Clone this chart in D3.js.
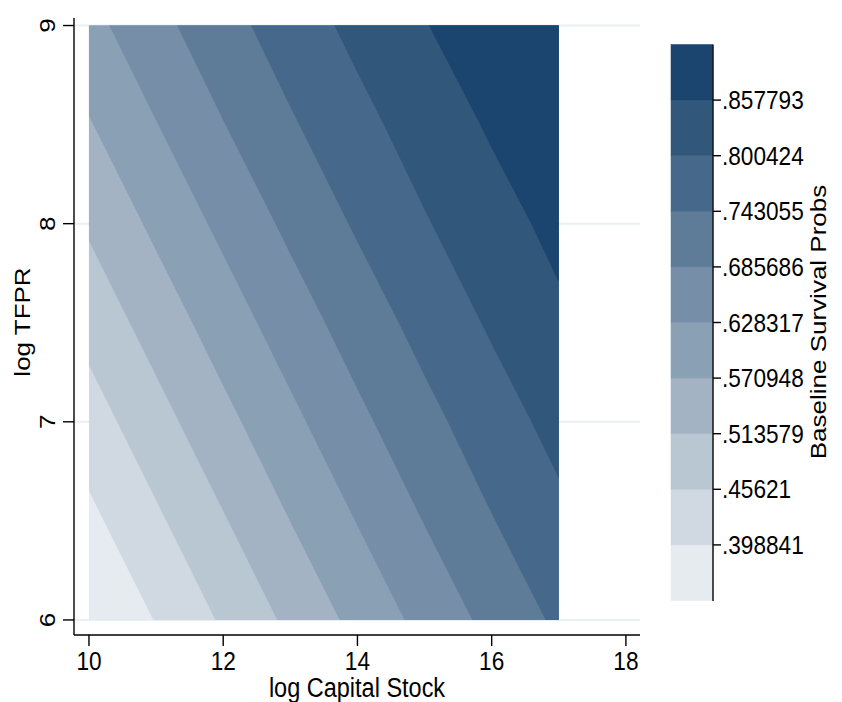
<!DOCTYPE html>
<html>
<head>
<meta charset="utf-8">
<script src="https://cdn.jsdelivr.net/npm/d3@7"></script>
<style>
  html, body { margin: 0; padding: 0; background: #ffffff; }
  svg { display: block; }
  text { font-family: "Liberation Sans", Arial, Helvetica, sans-serif; fill: #000; }
</style>
</head>
<body>
<svg id="chart" width="842" height="702"></svg>
<script>
// ---------------- DATA ----------------
// grid columns (log Capital Stock) and rows (log TFPR)
const xCols = [10, 11, 12, 13, 14, 15, 16, 17];
const yRows = [6, 6.5, 7, 7.5, 8, 8.5, 9];

// Baseline survival probabilities at the grid nodes (one array per row of log TFPR)
const zAtY6_0 = [0.3415, 0.4010, 0.4631, 0.5254, 0.5869, 0.6455, 0.7015, 0.7529];
const zAtY6_5 = [0.3850, 0.4465, 0.5088, 0.5711, 0.6302, 0.6874, 0.7403, 0.7867];
const zAtY7_0 = [0.4299, 0.4921, 0.5545, 0.6145, 0.6723, 0.7262, 0.7744, 0.8180];
const zAtY7_5 = [0.4755, 0.5378, 0.5987, 0.6569, 0.7120, 0.7621, 0.8073, 0.8477];
const zAtY8_0 = [0.5212, 0.5829, 0.6416, 0.6979, 0.7498, 0.7959, 0.8369, 0.8720];
const zAtY8_5 = [0.5669, 0.6262, 0.6837, 0.7367, 0.7836, 0.8261, 0.8641, 0.8936];
const zAtY9_0 = [0.6105, 0.6684, 0.7226, 0.7713, 0.8153, 0.8557, 0.8857, 0.9152];

// contour levels and legend labels
const zMin = 0.341472;
const zMax = 0.915162;
const levels = [0.398841, 0.45621, 0.513579, 0.570948, 0.628317, 0.685686, 0.743055, 0.800424, 0.857793];
const levelLabels = [".398841", ".45621", ".513579", ".570948", ".628317", ".685686", ".743055", ".800424", ".857793"];
const bandColors = ["#e6ebf0", "#d0d9e2", "#b9c7d3", "#a3b3c4", "#8aa0b5", "#768ea8", "#5e7b98", "#46698b", "#31577b", "#1b456e"];

// axis ticks and titles
const xTicks = [10, 12, 14, 16, 18];
const yTicks = [6, 7, 8, 9];
const xTitle = "log Capital Stock";
const yTitle = "log TFPR";
const legendTitle = "Baseline Survival Probs";

// ---------------- CHART ----------------
const svg = d3.select("#chart");
const SX = 0.87;          // horizontal squeeze of the glyphs
const FS = 26;            // font size

const x = d3.scaleLinear().domain([9.777, 18.21]).range([74, 640]);
const y = d3.scaleLinear().domain([5.924, 9.038]).range([635, 18]);

// gridlines
svg.append("g").selectAll("line").data(yTicks).join("line")
  .attr("x1", 74).attr("x2", 640)
  .attr("y1", d => y(d)).attr("y2", d => y(d))
  .attr("stroke", "#e8f0f2").attr("stroke-width", 2);

// contour field
const zGrid = [zAtY6_0, zAtY6_5, zAtY7_0, zAtY7_5, zAtY8_0, zAtY8_5, zAtY9_0];
const n = xCols.length, m = yRows.length;
const values = zGrid.flat();
const thresholds = [zMin, ...levels];
const contours = d3.contours().size([n, m]).thresholds(thresholds)(values);

const dxStep = xCols[1] - xCols[0];
const dyStep = yRows[1] - yRows[0];
const proj = d3.geoTransform({
  point: function(px, py) {
    const xd = xCols[0] + (px - 0.5) * dxStep;
    const yd = yRows[0] + (py - 0.5) * dyStep;
    this.stream.point(x(xd), y(yd));
  }
});
const path = d3.geoPath(proj);

const x0 = x(d3.min(xCols)), x1 = x(d3.max(xCols));
const yTop = y(d3.max(yRows)), yBot = y(d3.min(yRows));
svg.append("clipPath").attr("id", "fieldClip")
  .append("rect").attr("x", x0).attr("y", yTop).attr("width", x1 - x0).attr("height", yBot - yTop);

svg.append("g").attr("clip-path", "url(#fieldClip)")
  .selectAll("path").data(contours).join("path")
  .attr("d", path)
  .attr("fill", (d, i) => bandColors[i])
  .attr("stroke", (d, i) => bandColors[i])
  .attr("stroke-width", 0.6);

// axes lines
const axisG = svg.append("g").attr("stroke", "#000").attr("stroke-width", 1.4);
axisG.append("line").attr("x1", 74).attr("x2", 640).attr("y1", 635).attr("y2", 635);
axisG.append("line").attr("x1", 74).attr("x2", 74).attr("y1", 18).attr("y2", 635);

// x ticks
svg.append("g").selectAll("line").data(xTicks).join("line")
  .attr("x1", d => x(d)).attr("x2", d => x(d))
  .attr("y1", 635).attr("y2", 646)
  .attr("stroke", "#000").attr("stroke-width", 1.4);
svg.append("g").selectAll("text").data(xTicks).join("text")
  .attr("transform", d => `translate(${x(d)},670) scale(${SX},1)`)
  .attr("text-anchor", "middle").attr("font-size", FS)
  .text(d => d);

// y ticks
svg.append("g").selectAll("line").data(yTicks).join("line")
  .attr("x1", 63).attr("x2", 74)
  .attr("y1", d => y(d)).attr("y2", d => y(d))
  .attr("stroke", "#000").attr("stroke-width", 1.4);
svg.append("g").selectAll("text").data(yTicks).join("text")
  .attr("transform", d => `translate(55,${y(d)}) scale(${SX},1) rotate(-90)`)
  .attr("text-anchor", "middle").attr("font-size", FS)
  .text(d => d);

// axis titles
svg.append("text")
  .attr("transform", `translate(357,697) scale(${SX},1)`)
  .attr("text-anchor", "middle").attr("font-size", FS + 1)
  .text(xTitle);
svg.append("text")
  .attr("transform", `translate(30,322) scale(${SX},1) rotate(-90)`)
  .attr("text-anchor", "middle").attr("font-size", FS)
  .text(yTitle);

// ---------------- COLOR BAR ----------------
const cb = d3.scaleLinear().domain([zMin, zMax]).range([600.5, 44.5]);
const bandEdges = [zMin, ...levels, zMax];
svg.append("g").selectAll("rect").data(bandColors).join("rect")
  .attr("x", 671).attr("width", 41.5)
  .attr("y", (d, i) => cb(bandEdges[i + 1]))
  .attr("height", (d, i) => cb(bandEdges[i]) - cb(bandEdges[i + 1]))
  .attr("fill", d => d).attr("stroke", d => d).attr("stroke-width", 0.5);

svg.append("line").attr("x1", 713).attr("x2", 713).attr("y1", 44.5).attr("y2", 601)
  .attr("stroke", "#000").attr("stroke-width", 1.4);
svg.append("g").selectAll("line").data(levels).join("line")
  .attr("x1", 713).attr("x2", 721)
  .attr("y1", d => cb(d)).attr("y2", d => cb(d))
  .attr("stroke", "#000").attr("stroke-width", 1.4);
svg.append("g").selectAll("text").data(levels).join("text")
  .attr("transform", d => `translate(722,${cb(d) + 9}) scale(${SX},1)`)
  .attr("font-size", FS)
  .text((d, i) => levelLabels[i]);

svg.append("text")
  .attr("transform", `translate(826,322) scale(${SX},1) rotate(-90)`)
  .attr("text-anchor", "middle").attr("font-size", FS)
  .text(legendTitle);
</script>
</body>
</html>
